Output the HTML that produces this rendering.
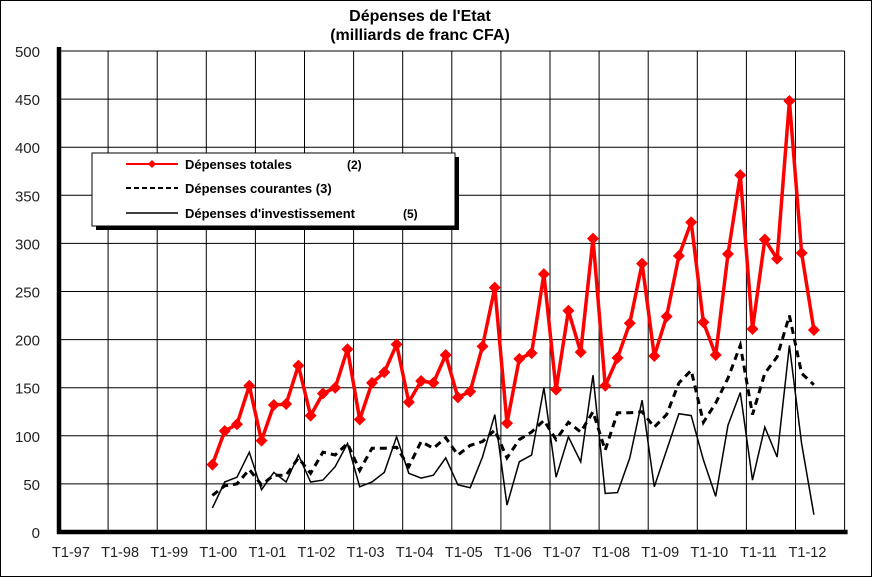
<!DOCTYPE html>
<html><head><meta charset="utf-8"><style>
html,body{margin:0;padding:0;background:#fff;}
svg{display:block;font-family:"Liberation Sans",Arial,sans-serif;}
</style></head><body>
<svg id="c" width="873" height="578" viewBox="0 0 873 578" xmlns="http://www.w3.org/2000/svg">
<rect x="0" y="0" width="873" height="578" fill="#fff"/>
<rect x="0.5" y="0.5" width="871" height="576" fill="none" stroke="#000" stroke-width="1"/>
<text x="420" y="21" text-anchor="middle" font-size="16" font-weight="bold">Dépenses de l'Etat</text>
<text x="420" y="40" text-anchor="middle" font-size="16" font-weight="bold">(milliards de franc CFA)</text>
<g id="grid"></g>
<g id="series"></g>
<g id="legend">
<rect x="96" y="157" width="363" height="73" fill="#000"/>
<rect x="92" y="153" width="363" height="73" fill="#fff" stroke="#000" stroke-width="1"/>
<line x1="126" y1="164" x2="178" y2="164" stroke="#f00" stroke-width="2"/>
<path d="M152 160 L156 164 L152 168 L148 164 Z" fill="#f00"/>
<text x="185" y="169" font-size="13" font-weight="bold">Dépenses totales</text>
<text x="347" y="169" font-size="12" font-weight="bold">(2)</text>
<line x1="126" y1="188" x2="178" y2="188" stroke="#000" stroke-width="2" stroke-dasharray="5,3"/>
<text x="185" y="193" font-size="13" font-weight="bold">Dépenses courantes (3)</text>
<line x1="126" y1="213" x2="178" y2="213" stroke="#000" stroke-width="1.5"/>
<text x="185" y="218" font-size="13" font-weight="bold">Dépenses d'investissement</text>
<text x="403" y="218" font-size="12" font-weight="bold">(5)</text>
</g>
</svg>
<script>
var NS="http://www.w3.org/2000/svg";
function el(p,t,a,txt){var e=document.createElementNS(NS,t);for(var k in a)e.setAttribute(k,a[k]);if(txt!==undefined)e.textContent=txt;p.appendChild(e);return e;}
var X0=59,YW=49.1,QW=YW/4,Y0=532,SC=0.962;
function X(i){return X0+(i+0.5)*QW;}
function Y(v){return Y0-v*SC;}
var g=document.getElementById('grid');
for(var v=50;v<=500;v+=50){el(g,'line',{x1:X0,y1:Y(v),x2:X0+16*YW,y2:Y(v),stroke:'#000','stroke-width':1});}
for(var k=1;k<=16;k++){var x=X0+k*YW;el(g,'line',{x1:x,y1:Y(500),x2:x,y2:Y0,stroke:'#000','stroke-width':1});}
for(var v=0;v<=500;v+=50){el(g,'text',{x:40,y:Y(v)+6,'text-anchor':'end','font-size':15,fill:'#222'},String(v));
 el(g,'rect',{x:X0-2,y:Y(v)-2,width:4,height:4,fill:'#000'});}
var yrs=['97','98','99','00','01','02','03','04','05','06','07','08','09','10','11','12'];
for(var k=0;k<16;k++){el(g,'text',{x:X0+k*YW+12,y:557,'text-anchor':'middle','font-size':14.5,fill:'#222'},'T1-'+yrs[k]);
 el(g,'rect',{x:X0+k*YW-2,y:Y0-2,width:4,height:4,fill:'#000'});}
el(g,'line',{x1:X0,y1:Y(500)-4,x2:X0,y2:Y0+2,stroke:'#000','stroke-width':4.5});
el(g,'line',{x1:X0-2,y1:Y0,x2:X0+16*YW+3,y2:Y0,stroke:'#000','stroke-width':4.5});
var red=[70,105,112,152,95,132,133,173,121,144,150,190,117,155,166,195,135,157,155,184,140,146,193,254,113,180,186,268,148,230,187,305,152,181,217,279,183,224,287,322,218,184,289,371,211,304,284,448,290,210];
var dash=[38,48,50,65,49,59,59,77,61,83,80,92,64,87,87,88,68,94,87,98,80,90,94,106,77,96,104,116,96,114,104,125,85,124,124,125,109,122,155,168,114,134,160,194,122,165,182,225,165,153];
var inv=[25,52,57,83,44,62,52,80,52,54,68,92,47,52,62,99,61,56,59,77,49,46,78,122,28,73,80,150,57,99,73,163,40,41,77,137,47,85,123,121,75,37,111,145,54,109,78,194,92,18];
var s=document.getElementById('series');
function pts(a){return a.map(function(v,j){return X(j+12).toFixed(1)+','+Y(v).toFixed(1);}).join(' ');}
el(s,'polyline',{points:pts(inv),fill:'none',stroke:'#000','stroke-width':1.5});
el(s,'polyline',{points:pts(dash),fill:'none',stroke:'#000','stroke-width':3,'stroke-dasharray':'7,5'});
el(s,'polyline',{points:pts(red),fill:'none',stroke:'#f00','stroke-width':3.5,'stroke-linejoin':'round'});
red.forEach(function(v,j){var x=X(j+12),y=Y(v);el(s,'path',{d:'M'+x+' '+(y-6)+' L'+(x+6)+' '+y+' L'+x+' '+(y+6)+' L'+(x-6)+' '+y+' Z',fill:'#f00'});});
</script>
</body></html>
